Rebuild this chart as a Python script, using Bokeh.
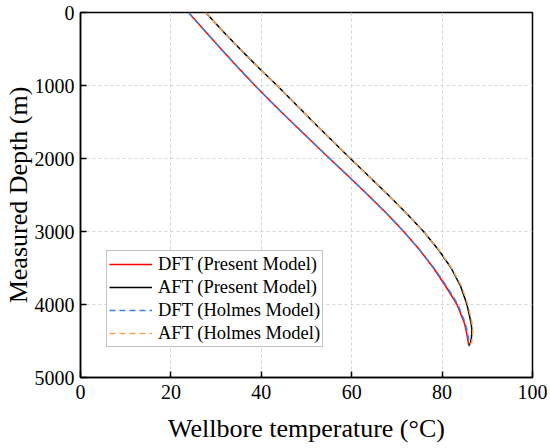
from bokeh.plotting import figure
from bokeh.models import Range1d, Legend, LegendItem, FixedTicker
from bokeh.embed import file_html
from bokeh.resources import INLINE

# Measured depth (m)
depth = [0, 250, 500, 750, 1000, 1250, 1500, 1750, 2000, 2250, 2500, 2750, 3000,
         3250, 3500, 3750, 4000, 4250, 4350, 4450, 4520, 4570]
# Present model (°C)
dft_present = [23.9, 27.5, 31.1, 34.8, 38.6, 42.6, 46.7, 50.9, 55.1, 59.4, 63.6, 67.7, 71.5,
               75.0, 78.1, 80.8, 83.3, 84.9, 85.3, 85.6, 85.8, 85.9]
aft_present = [27.7, 31.4, 35.3, 39.3, 43.5, 47.5, 51.5, 55.6, 59.7, 63.9, 68.1, 72.1, 75.9,
               79.2, 82.0, 84.1, 85.5, 86.4, 86.6, 86.5, 86.3, 85.9]
# Holmes model (°C)
dft_holmes = [23.9, 27.5, 31.1, 34.8, 38.6, 42.6, 46.7, 50.9, 55.1, 59.4, 63.6, 67.7, 71.5,
              75.0, 78.2, 81.0, 83.5, 85.1, 85.5, 85.8, 85.9, 85.9]
aft_holmes = [27.7, 31.4, 35.3, 39.3, 43.5, 47.5, 51.5, 55.6, 59.7, 63.9, 68.1, 72.1, 75.9,
              79.3, 82.1, 84.3, 85.7, 86.6, 86.8, 86.7, 86.5, 86.0]

x_ticks = [0, 20, 40, 60, 80, 100]
y_ticks = [0, 1000, 2000, 3000, 4000, 5000]

FONT = "Liberation Serif"

p = figure(width=550, height=448, output_backend="svg", toolbar_location=None,
           x_range=Range1d(0, 100), y_range=Range1d(5000, 0),
           min_border_left=79, min_border_right=18, min_border_top=12, min_border_bottom=71)

p.outline_line_color = "black"
p.outline_line_width = 1.5
p.background_fill_color = "white"

for ax in (p.xaxis, p.yaxis):
    ax.axis_line_width = 1.5
    ax.major_tick_line_width = 1.5
    ax.major_tick_in = 6
    ax.major_tick_out = 0
    ax.minor_tick_line_color = None
    ax.major_label_text_font = FONT
    ax.major_label_text_font_size = "20px"
    ax.major_label_text_color = "black"
    ax.axis_label_text_font = FONT
    ax.axis_label_text_font_size = "26px"
    ax.axis_label_text_font_style = "normal"
    ax.axis_label_text_color = "black"

p.xaxis.ticker = FixedTicker(ticks=x_ticks)
p.yaxis.ticker = FixedTicker(ticks=y_ticks)
p.xaxis.axis_label = "Wellbore temperature (°C)"
p.yaxis.axis_label = "Measured Depth (m)"
p.xaxis.major_label_standoff = 7
p.yaxis.major_label_standoff = 6
p.xaxis.axis_label_standoff = 12
p.yaxis.axis_label_standoff = -1

for g in (p.xgrid, p.ygrid):
    g.grid_line_color = "#d4d4d4"
    g.grid_line_dash = "3 3"
    g.grid_line_width = 1

r1 = p.line(dft_present, depth, line_color="#ff0000", line_width=1.5)
r2 = p.line(aft_present, depth, line_color="#000000", line_width=1.5)
r3 = p.line(dft_holmes, depth, line_color="#3b7fe6", line_width=1.5, line_dash="6 4")
r4 = p.line(aft_holmes, depth, line_color="#f5a35c", line_width=1.5, line_dash="6 4")

legend = Legend(items=[
    LegendItem(label="DFT (Present Model)", renderers=[r1]),
    LegendItem(label="AFT (Present Model)", renderers=[r2]),
    LegendItem(label="DFT (Holmes Model)", renderers=[r3]),
    LegendItem(label="AFT (Holmes Model)", renderers=[r4]),
], location=(26, 30))
legend.label_text_font = FONT
legend.label_text_font_size = "18.5px"
legend.label_text_color = "black"
legend.glyph_width = 43
legend.glyph_height = 22
legend.label_height = 22
legend.label_standoff = 6
legend.spacing = 1
legend.padding = 2
legend.margin = 0
legend.border_line_color = "#888888"
legend.border_line_width = 1
legend.background_fill_alpha = 1
p.add_layout(legend)

open("out.html", "w").write(file_html(p, INLINE))
